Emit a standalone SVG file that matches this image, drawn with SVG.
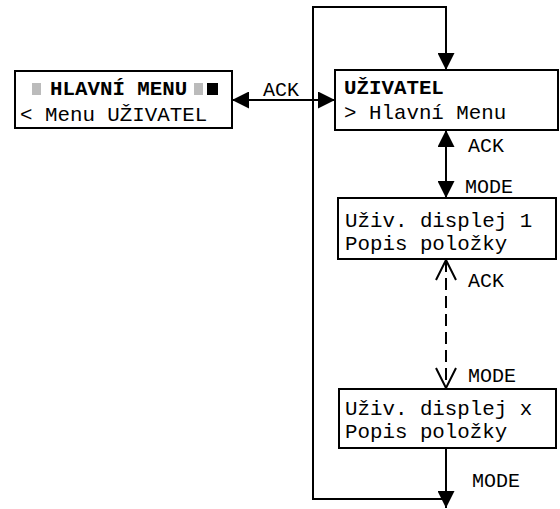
<svg xmlns="http://www.w3.org/2000/svg" width="560" height="509" viewBox="0 0 560 509">
<style>
.box{fill:#fff;stroke:#000;stroke-width:2}
.t{font-family:"Liberation Mono","Courier New",monospace;font-size:20.8px;fill:#000}
.b{font-weight:bold}
.lbl{font-family:"Liberation Mono","Courier New",monospace;font-size:20px;fill:#000}
.ln{fill:none;stroke:#000;stroke-width:2}
.dash{stroke-dasharray:12 6}
</style>
<defs>
<marker id="ah" viewBox="0 0 17 17" refX="17" refY="8.5" markerWidth="17" markerHeight="17" markerUnits="userSpaceOnUse" orient="auto-start-reverse">
<path d="M0,0 L17,8.5 L0,17 z" fill="#000"/>
</marker>
<marker id="oh" viewBox="-1 -1 22 22" refX="20" refY="10" markerWidth="22" markerHeight="22" markerUnits="userSpaceOnUse" orient="auto-start-reverse">
<path d="M0,0 L20,10 L0,20" fill="none" stroke="#000" stroke-width="2"/>
</marker>
</defs>
<g id="connectors">
<line class="ln" x1="232" y1="100" x2="335" y2="100" marker-start="url(#ah)" marker-end="url(#ah)"/>
<path class="ln" d="M446,499 H313 V7 H446 V70" marker-end="url(#ah)"/>
<line class="ln" x1="446" y1="130" x2="446" y2="198" marker-start="url(#ah)" marker-end="url(#ah)"/>
<line class="ln dash" x1="446" y1="260" x2="446" y2="388" marker-start="url(#oh)" marker-end="url(#oh)"/>
<line class="ln" x1="446" y1="448" x2="446" y2="508" marker-end="url(#ah)"/>
<text class="lbl" x="263" y="96">ACK</text>
<text class="lbl" x="468" y="152">ACK</text>
<text class="lbl" x="465" y="193">MODE</text>
<text class="lbl" x="468" y="287">ACK</text>
<text class="lbl" x="468" y="382">MODE</text>
<text class="lbl" x="472" y="487">MODE</text>
</g>
<g id="hlavni-menu">
<rect class="box" x="15" y="71" width="217" height="57"/>
<rect x="32" y="83" width="9" height="12" fill="#bbb"/>
<text class="t b" x="50" y="95">HLAVNÍ MENU</text>
<rect x="194" y="83" width="9" height="12" fill="#bbb"/>
<rect x="207" y="83" width="11" height="12" fill="#000"/>
<text class="t" x="20" y="121">&lt; Menu UŽIVATEL</text>
</g>
<g id="uzivatel">
<rect class="box" x="335" y="70" width="223" height="60"/>
<text class="t b" x="344" y="94">UŽIVATEL</text>
<text class="t" x="344" y="119">&gt; Hlavní Menu</text>
</g>
<g id="displej-1">
<rect class="box" x="338" y="198" width="218" height="61"/>
<text class="t" x="345" y="227">Uživ. displej 1</text>
<text class="t" x="345" y="250">Popis položky</text>
</g>
<g id="displej-x">
<rect class="box" x="339" y="389" width="217" height="59"/>
<text class="t" x="345" y="415">Uživ. displej x</text>
<text class="t" x="345" y="438">Popis položky</text>
</g>
</svg>
